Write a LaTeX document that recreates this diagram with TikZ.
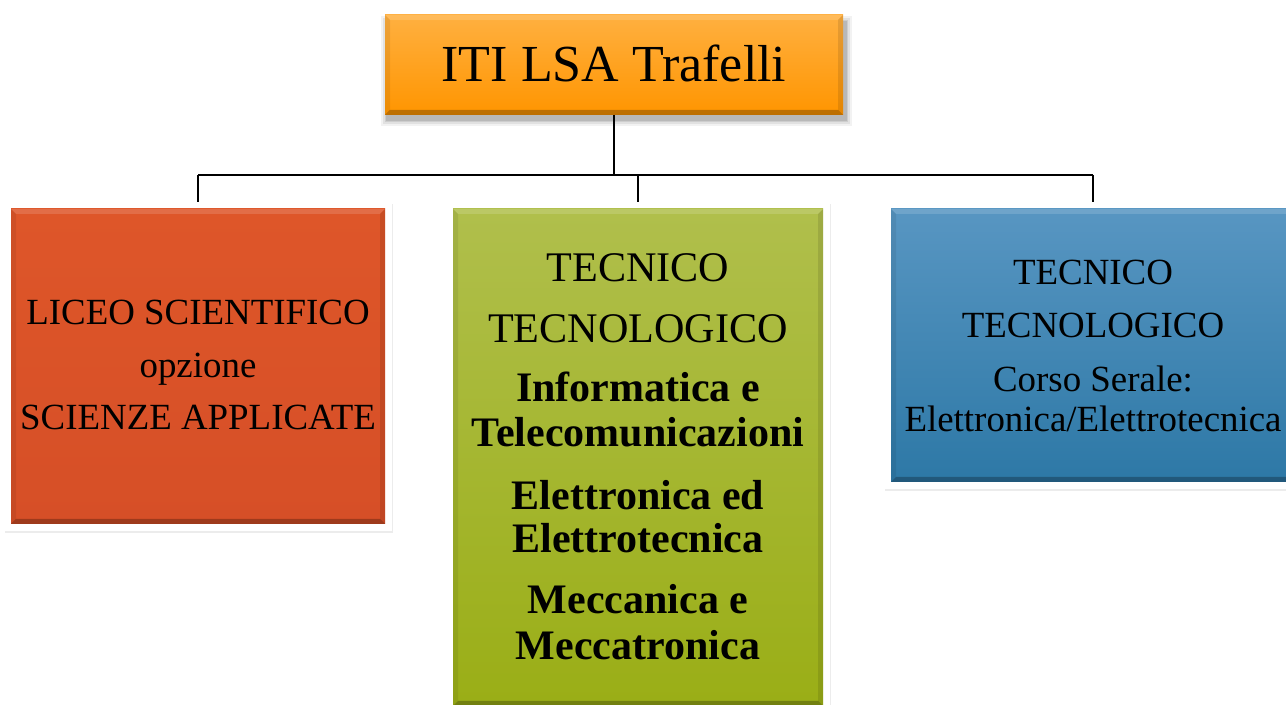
\documentclass[tikz,border=0pt]{standalone}
\usepackage{fontspec}
\setmainfont{Liberation Serif}
\usetikzlibrary{fit,shadows,calc}
\definecolor{orTop}{HTML}{FFB040}
\definecolor{orBot}{HTML}{FF9500}
\definecolor{rdTop}{HTML}{DE5629}
\definecolor{rdBot}{HTML}{D64F27}
\definecolor{grTop}{HTML}{B0BF4C}
\definecolor{grBot}{HTML}{9AAE16}
\definecolor{blTop}{HTML}{5896C2}
\definecolor{blBot}{HTML}{2D78A6}
\newcommand\mybevel[2]{%
  \fill[white,opacity=0.14] (#1.north west) -- (#1.north east) -- ([shift={(-#2,#2)}]#1.north east) -- ([shift={(#2,#2)}]#1.north west) -- cycle;
  \fill[black,opacity=0.26] (#1.south west) -- (#1.south east) -- ([shift={(-#2,-#2)}]#1.south east) -- ([shift={(#2,-#2)}]#1.south west) -- cycle;
  \fill[black,opacity=0.07] (#1.north west) -- (#1.south west) -- ([shift={(#2,-#2)}]#1.south west) -- ([shift={(#2,#2)}]#1.north west) -- cycle;
  \fill[black,opacity=0.10] (#1.north east) -- (#1.south east) -- ([shift={(-#2,-#2)}]#1.south east) -- ([shift={(-#2,#2)}]#1.north east) -- cycle;
}
\tikzset{
  boxbase/.style={inner sep=0pt, outer sep=0pt, draw=none},
  frame/.style={inner sep=0pt, outer sep=0pt, fill=white,
     drop shadow={shadow xshift=0.6pt, shadow yshift=-1.2pt, opacity=0.15, fill=black!50}},
  conn/.style={draw=black, line width=1.4pt},
  ttop/.style={anchor=base, inner sep=0pt, font=\fontsize{29.6}{34}\selectfont},
  tmid/.style={anchor=base, inner sep=0pt, font=\fontsize{24}{28}\selectfont},
  tmidb/.style={anchor=base, inner sep=0pt, font=\fontsize{23.9}{28}\selectfont\bfseries},
  tside/.style={anchor=base, inner sep=0pt, font=\fontsize{21}{25}\selectfont},
}
\begin{document}
\begin{tikzpicture}[x=0.02cm, y=-0.02cm]
\useasboundingbox (0,0) rectangle (1286,705);
% top box shadow (soft, below-right)
\foreach \d/\o in {6/0.05,4/0.07,2/0.09,1/0.1}{
  \fill[black,opacity=\o] (385+2-\d,15+7-\d) rectangle (843+3+\d,115+5+\d);
}
\node[boxbase, fit={(385,15) (843,115)}, top color=orTop, bottom color=orBot] (top) {};
\mybevel{top}{5}
\node[ttop] (ttl) at (614,82) {ITI LSA Trafelli};

% frames
\node[frame, fit={(4,202) (392,531)}] (leftframe) {};
\node[frame, fit={(446,202) (830,712)}] (midframe) {};
\node[frame, fit={(884,202) (1302,489)}] (rightframe) {};

% boxes
\node[boxbase, fit={(11,209) (385,524)}, top color=rdTop, bottom color=rdBot] (left) {};
\mybevel{left}{5}
\node[boxbase, fit={(453,209) (823,706)}, top color=grTop, bottom color=grBot] (mid) {};
\mybevel{mid}{5}
\node[boxbase, fit={(891,209) (1295,482)}, top color=blTop, bottom color=blBot] (right) {};
\mybevel{right}{5}

% connectors
\coordinate (j) at (614,175);
\draw[conn] (top.south) -- (j);
\draw[conn] (left.north |- j) -- (right.north |- j);
\draw[conn] (left.north |- j) -- (leftframe.north);
\draw[conn] (mid.north |- j) -- (midframe.north);
\draw[conn] (right.north |- j) -- (rightframe.north);

% left text
\node[tside] (l1) at (198,325) {LICEO SCIENTIFICO};
\node[tside] (l2) at (198,378) {opzione};
\node[tside] (l3) at (198,430) {SCIENZE APPLICATE};

% middle text
\node[tmid] (m1) at (638,282) {TECNICO};
\node[tmid] (m2) at (638,343) {TECNOLOGICO};
\node[tmidb] (m3) at (638,402) {Informatica e};
\node[tmidb] (m4) at (638,447) {Telecomunicazioni};
\node[tmidb] (m5) at (638,510) {Elettronica ed};
\node[tmidb] (m6) at (638,553) {Elettrotecnica};
\node[tmidb] (m7) at (638,614) {Meccanica e};
\node[tmidb] (m8) at (638,660) {Meccatronica};

% right text
\node[tside] (r1) at (1093,285) {TECNICO};
\node[tside] (r2) at (1093,338) {TECNOLOGICO};
\node[tside] (r3) at (1093,392) {Corso Serale:};
\node[tside] (r4) at (1093,432) {Elettronica/Elettrotecnica};
\end{tikzpicture}
\end{document}
